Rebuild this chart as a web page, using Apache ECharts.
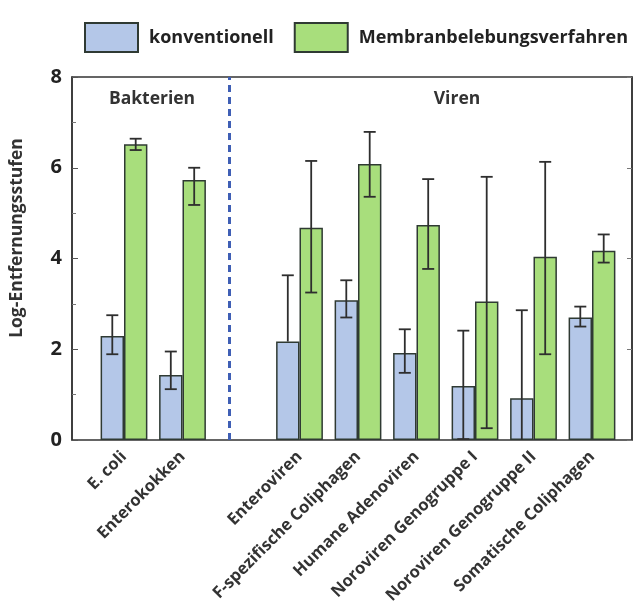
<!DOCTYPE html>
<html>
<head>
<meta charset="utf-8">
<script src="https://cdn.jsdelivr.net/npm/echarts@6/dist/echarts.min.js"></script>
<style>html,body{margin:0;padding:0;background:#fff;}#c{width:633px;height:616px;}</style>
</head>
<body>
<div id="c"></div>
<script>
const categories = ['E. coli','Enterokokken','','Enteroviren','F-spezifische Coliphagen','Humane Adenoviren','Noroviren Genogruppe I','Noroviren Genogruppe II','Somatische Coliphagen'];
const seriesNames = ['konventionell','Membranbelebungsverfahren'];
const konvValues = [2.29,1.43,null,2.17,3.08,1.92,1.19,0.92,2.70];
const konvLow    = [1.89,1.12,null,2.17,2.70,1.48,0.02,-0.3,2.50];
const konvHigh   = [2.75,1.95,null,3.63,3.52,2.44,2.41,2.86,2.94];
const mbrValues  = [6.52,5.73,null,4.68,6.08,4.74,3.05,4.04,4.17];
const mbrLow     = [6.39,5.18,null,3.25,5.36,3.77,0.26,1.89,3.91];
const mbrHigh    = [6.64,6.00,null,6.15,6.79,5.75,5.80,6.13,4.53];
const yTicks = [0,2,4,6,8];
const groupLabels = ['Bakterien','Viren'];

const FONT = 'Open Sans';
const chart = echarts.init(document.getElementById('c'));

function errData(vals, lo, hi){
  const out = [];
  vals.forEach((v,i)=>{ if(v!=null) out.push([i, lo[i], hi[i], v]); });
  return out;
}
function makeRender(sign){
  return function(params, api){
    const i = api.value(0), lo = api.value(1), hi = api.value(2), v = api.value(3);
    const band = api.size([1,0])[0];
    const off = sign*band*0.2;
    const y0 = api.coord([i,0])[1];
    const pHi = api.coord([i,hi]);
    let yLo = api.coord([i,lo])[1];
    const x = pHi[0]+off;
    const cap = 6;
    const st = {stroke:'#2e2e2e', lineWidth:1.8};
    const children = [];
    const bottom = Math.min(yLo, y0);
    children.push({type:'line', shape:{x1:x,y1:pHi[1],x2:x,y2:bottom}, style:st});
    children.push({type:'line', shape:{x1:x-cap,y1:pHi[1],x2:x+cap,y2:pHi[1]}, style:st});
    if(lo < v && lo >= 0){
      children.push({type:'line', shape:{x1:x-cap,y1:yLo,x2:x+cap,y2:yLo}, style:st});
    }
    return {type:'group', children};
  };
}
const gapIndex = categories.indexOf('');

const option = {
  animation:false,
  backgroundColor:'#fff',
  textStyle:{fontFamily:FONT},
  legend:{
    data:seriesNames, left:79, top:17, icon:'rect', itemWidth:53, itemHeight:29, itemGap:20,
    textStyle:{fontFamily:FONT, fontSize:18, fontWeight:'bold', color:'#222', padding:[0,0,0,6]}
  },
  grid:[
    {left:72, right:1, top:77, bottom:176, show:true, borderColor:'#333', borderWidth:1.5, backgroundColor:'transparent'},
    {left:94.75, width:526.5, top:77, bottom:176}
  ],
  xAxis:[
    {gridIndex:0, type:'value', min:0, max:1, show:false},
    {gridIndex:1, type:'category', data:categories,
     axisLine:{show:false}, axisTick:{show:false},
     axisLabel:{rotate:45, interval:0, margin:14, fontFamily:FONT, fontSize:16.5, fontWeight:'bold', color:'#333'}}
  ],
  yAxis:[
    {gridIndex:0, type:'value', min:yTicks[0], max:yTicks[yTicks.length-1], interval:2,
     axisLine:{show:true, lineStyle:{color:'#333', width:1.5}},
     axisTick:{show:true, inside:true, length:6, lineStyle:{color:'#555'}},
     minorTick:{show:true, splitNumber:2, length:4, lineStyle:{color:'#777'}},
     splitLine:{show:false},
     axisLabel:{margin:10, fontFamily:FONT, fontSize:20, fontWeight:'bold', color:'#222'}},
    {gridIndex:0, type:'value', position:'right', min:yTicks[0], max:yTicks[yTicks.length-1], interval:2,
     axisLine:{show:true, lineStyle:{color:'#333', width:1.5}},
     axisTick:{show:true, inside:true, length:5, lineStyle:{color:'#777'}},
     axisLabel:{show:false}, splitLine:{show:false}},
    {gridIndex:1, type:'value', min:yTicks[0], max:yTicks[yTicks.length-1], show:false, splitLine:{show:false}}
  ],
  graphic:[
    {type:'text', x:17, y:238, rotation:Math.PI/2, style:{text:'Log-Entfernungsstufen', fontFamily:FONT, fontSize:17.5, fontWeight:'bold', fill:'#333', textAlign:'center', textVerticalAlign:'middle'}},
    {type:'text', x:152, y:99, style:{text:groupLabels[0], fontFamily:FONT, fontSize:17.5, fontWeight:'bold', fill:'#333', textAlign:'center', textVerticalAlign:'middle'}},
    {type:'text', x:457, y:99, style:{text:groupLabels[1], fontFamily:FONT, fontSize:17.5, fontWeight:'bold', fill:'#333', textAlign:'center', textVerticalAlign:'middle'}}
  ],
  series:[
    {name:seriesNames[0], type:'bar', xAxisIndex:1, yAxisIndex:2, data:konvValues, barWidth:'40%', barGap:'0%',
     itemStyle:{color:'#b4c7e8', borderColor:'#2f3a33', borderWidth:1.5},
     markLine:{silent:true, symbol:'none', label:{show:false},
       lineStyle:{color:'#3f5fb5', width:3, type:[7,5]},
       data:[{xAxis:gapIndex}]}},
    {name:seriesNames[1], type:'bar', xAxisIndex:1, yAxisIndex:2, data:mbrValues, barWidth:'40%', barGap:'0%',
     itemStyle:{color:'#a8de7c', borderColor:'#2f3a33', borderWidth:1.5}},
    {type:'custom', xAxisIndex:1, yAxisIndex:2, renderItem:makeRender(-1), data:errData(konvValues,konvLow,konvHigh), z:10, clip:true},
    {type:'custom', xAxisIndex:1, yAxisIndex:2, renderItem:makeRender(1), data:errData(mbrValues,mbrLow,mbrHigh), z:10, clip:true}
  ]
};
chart.setOption(option);
</script>
</body>
</html>
